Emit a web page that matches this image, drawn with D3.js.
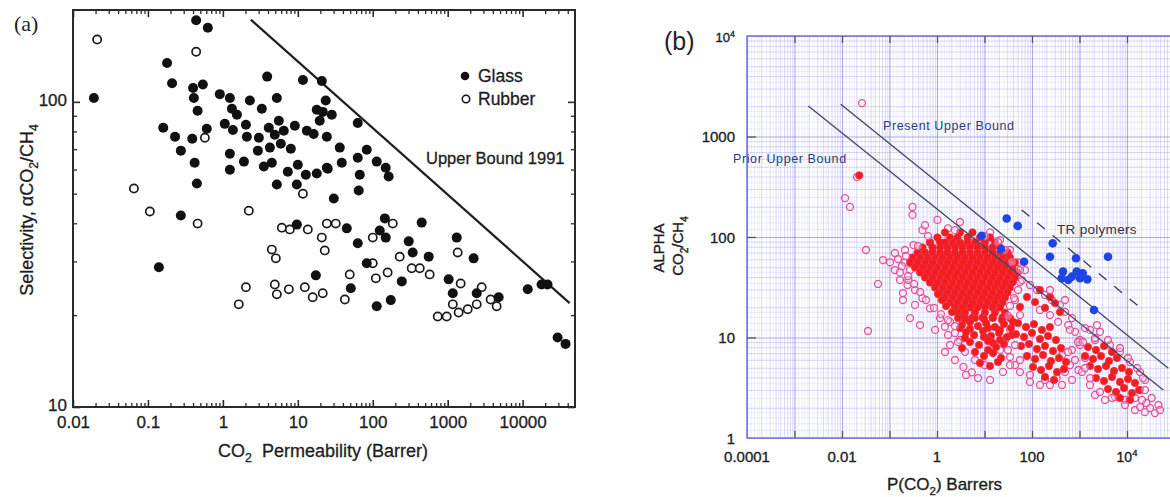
<!DOCTYPE html>
<html>
<head>
<meta charset="utf-8">
<title>CO2/CH4 upper bound plots</title>
<script src="https://cdn.jsdelivr.net/npm/d3@7/dist/d3.min.js"></script>
<style>
html,body{margin:0;padding:0;background:#fff;}
svg{display:block;}
text{white-space:pre;}
</style>
</head>
<body>
<svg id="fig" width="1170" height="497"></svg>
<script>
// ===================== Panel (a) data =====================
// [CO2 permeability (Barrer), CO2/CH4 selectivity]
const glassPoints = [
  [0.44,185],[0.63,175],[0.18,134],[0.21,115],[0.40,111],[0.54,114],[0.41,103],[0.019,103],
  [3.9,121],[11.7,118],[20.9,117],[0.91,106],[1.24,103],[2.29,101],[5.25,103],[23.6,101],
  [0.46,93.5],[1.32,94.9],[1.54,90.7],[3.31,94.9],[17.9,94.2],[21.5,92.7],[28.4,90.7],
  [0.16,82.2],[0.23,76.9],[0.39,75.7],[0.61,81.6],[1.06,84.7],[1.36,80.9],[2.03,84.1],[2.09,76.9],
  [3.02,76.3],[4.1,82.2],[5.58,86.7],[4.93,78],[6.5,80.4],[9.12,83.5],[13.2,80.4],[16.3,78.5],
  [19.6,86.7],[24.4,76.9],[63.1,85.3],
  [0.275,69.2],[0.42,63.2],[1.24,67.6],[1.91,63.7],[2.93,69.2],[4.24,70.8],[5.93,72.9],[8.07,70.2],
  [4.5,63.2],[3.52,61.4],[1.24,59.9],[7.36,59],[10,62.2],[12.8,57.7],[17.9,58.2],[24.4,60.8],
  [0.45,54],[5.25,53.6],
  [36.3,70.8],[83.2,69.7],[63.1,65.6],[113,63.7],[149,60.8],[163,56.9],[38.6,63.2],[25.1,60.4],
  [67.1,57.7],[65,51.2],[30.2,48.2],[9.7,53.6],
  [145,41.5],[124,37.9],[149,35.9],[45,38.5],[63.1,34.4],[450,40.2],[1320,35.9],[302,34.9],
  [341,32.1],[558,31.1],[2220,30.7],[83.2,29.6],[1030,26.2],[244,25.8],[50.9,24.5],[1170,23.6],
  [2440,23.6],[4790,22.9],[174,22.4],[113,21.4],[11700,24.3],[17900,25.2],[21500,25.2],
  [29300,16.9],[37400,16.1],
  [0.275,42.4],[0.14,28.7],[9.7,39.6],[17.4,27]
];
const rubberPoints = [
  [0.021,160],[0.44,146],[0.575,76.3],[0.065,52],[11.7,50],[0.106,43.7],[0.46,39.9],[2.22,44],
  [6.12,38.7],[7.82,38.2],[13.6,38.2],[24.4,39.9],[32.1,39.9],[20.9,35.9],[22.9,32.6],[100,35.9],
  [185,39.9],[4.5,32.8],[5.09,30.7],[2.03,24.7],[1.63,21.7],[4.93,25.2],[5.25,23.4],[7.59,24.3],
  [12.4,24.7],[15.8,22.9],[21.5,23.6],[42.4,22.5],[49.3,27.2],[110,26.4],[158,27.6],[100,29.6],
  [229,31.1],[331,28.5],[424,28.5],[575,27.2],[1360,32.1],[1490,25.4],[2840,24.7],[1170,21.7],
  [1400,20.4],[1850,20.9],[2440,21.7],[736,19.8],[970,19.8],[3740,22.5],[4500,21.4]
];
const upperBound1991 = [[2.36,186],[42400,21.9]];
const aXTicks = [0.01,0.1,1,10,100,1000,10000];
const aXTickLabels = ["0.01","0.1","1","10","100","1000","10000"];
const aYTicks = [10,100];
const aYTickLabels = ["10","100"];

// ===================== Panel (b) data =====================
// TR polymers [P(CO2), alpha]
const trPolymers = [
  [29.3,153],[50,129],[8.7,103],[273,86.5],[22.2,76],[67.9,56.8],[239,63.7],[844,61.4],[3980,63.7],
  [450,45.2],[686,40.3],[873,45.2],[1170,43.5],[1460,37.9],[581,37.3],[422,38.8],[1025,38.8],[2020,18.8]
];
// core of the literature cloud, filled symbols: rows of [alpha, [P(CO2) ...]]
const literatureCoreRows = [
  [111, [1.47, 3.05, 5.59]],
  [98.9, [1.02, 1.88, 2.70, 4.39, 8.04, 13.1]],
  [88.2, [0.71, 1.16, 1.47, 2.12, 3.05, 4.39, 6.31, 10.2, 16.6]],
  [78.7, [0.495, 0.804, 1.16, 1.66, 2.39, 3.44, 4.95, 7.12, 10.2, 14.7, 21.2]],
  [70.1, [0.388, 0.56, 0.804, 1.16, 1.66, 2.39, 3.44, 4.95, 7.12, 10.2, 14.7, 21.2, 30.5]],
  [62.5, [0.305, 0.44, 0.631, 0.91, 1.31, 1.88, 2.70, 3.88, 5.59, 8.04, 11.6, 16.6, 23.9, 34.4]],
  [55.7, [0.27, 0.388, 0.56, 0.804, 1.16, 1.66, 2.39, 3.44, 4.95, 7.12, 10.2, 14.7, 21.2, 30.5, 43.9]],
  [49.7, [0.344, 0.495, 0.71, 1.02, 1.47, 2.12, 3.05, 4.39, 6.31, 9.08, 13.1, 18.8, 27, 38.8]],
  [44.4, [0.44, 0.631, 0.91, 1.31, 1.88, 2.70, 3.88, 5.59, 8.04, 11.6, 16.6, 23.9, 34.4, 49.5]],
  [39.5, [0.56, 0.804, 1.16, 1.66, 2.39, 3.44, 4.95, 7.12, 10.2, 14.7, 21.2, 30.5, 43.9]],
  [35.3, [0.71, 1.02, 1.47, 2.12, 3.05, 4.39, 6.31, 9.08, 13.1, 18.8, 27, 38.8]],
  [31.4, [0.91, 1.31, 1.88, 2.70, 3.88, 5.59, 8.04, 11.6, 16.6, 23.9, 34.4]],
  [28.0, [1.16, 1.66, 2.39, 3.44, 4.95, 7.12, 10.2, 14.7, 21.2, 30.5]],
  [25.0, [1.47, 2.12, 3.05, 4.39, 6.31, 9.08, 13.1, 18.8, 27]],
  [22.3, [1.88, 2.70, 3.88, 5.59, 8.04, 11.6, 16.6, 23.9]],
  [19.9, [2.39, 3.44, 4.95, 7.12, 10.2, 14.7, 21.2]],
  [17.7, [2.70, 3.88, 6.31, 10.2, 16.6, 27]],
  [15.8, [3.44, 5.59, 9.08, 14.7, 23.9]]
];
// filled symbols outside the core [P(CO2), alpha]
const literatureFilled = [
  [0.0231,410],
  [1.27,23.6],[1.05,27.1],[1.55,20.6],[2.07,17.9],
  [2.77,15.6],[4.08,15.3],[6.31,15.6],[9.76,15.3],[15.1,15.6],[23.4,14.9],[34.4,15.6],
  [3.05,12.4],[4.95,12.2],[11.9,12.4],[21.2,11.9],[39.8,14.3],
  [3.88,9.89],[9.76,10.1],[15.1,8.81],[21.2,9.44],[37.9,10.6],[3.36,7.86],[11.9,7.51],
  [78.5,25.3],[239,25.3],[116,22.5],[305,22.0],[55.9,20.1],[188,19.7],[147,29.7],[388,17.9],
  [3.36,13.3],[4.95,14.3],[7.30,13.0],[10.8,13.9],[16.6,12.7],[25.7,13.6],[36.1,12.4],
  [4.08,11.3],[6.01,10.6],[9.30,11.6],[13.7,10.35],[20.2,11.1],[29.8,10.1],
  [4.95,9.02],[7.66,8.42],[11.9,9.23],[17.5,8.04],[25.7,8.61],
  [6.31,7.17],[9.76,6.54],[15.1,7.01],[22.3,6.25],[8.04,5.58],[13.1,5.20],[19.2,5.71],
  [50.7,13.9],[74.8,12.7],[110,13.6],[162,11.9],[239,12.7],
  [46,10.8],[67.9,10.1],[100,11.1],[147,9.66],[217,10.35],[320,9.44],
  [58.7,8.23],[86.5,8.61],[127,7.69],[188,8.23],[277,7.34],[408,7.86],
  [78.5,6.54],[116,6.11],[171,6.70],[251,5.84],[370,6.25],[520,5.71],
  [105,5.09],[155,4.75],[228,5.20],[336,4.54],[472,4.86],[188,4.05],[290,3.78],
  [1510,8.04],[2224,7.51],[3280,8.23],[4830,7.17],
  [1306,6.54],[1923,6.11],[2836,6.54],[4180,5.84],[6150,6.25],
  [1663,5.20],[2450,4.86],[3614,5.20],[5320,4.64],[7850,4.97],[11000,4.54],
  [2224,3.95],[3280,3.69],[4830,4.05],[7120,3.61],[10500,3.86],[14730,3.53],
  [3980,3.07],[5870,2.87],[8650,3.14],[12740,2.80],[17900,3.00],[7120,2.50],[11560,2.39]
];
// open symbols scattered around the cloud [P(CO2), alpha]
const literatureOpen = [
  [0.0264,2150],[0.0207,395],[0.0116,244],[0.0147,199],[0.032,74.2],[0.0573,34.1],[0.0352,11.6],
  [0.073,59],[0.151,60.4],[0.13,69.3],[0.27,46.9],
  [0.305,199],[0.305,166],[1.02,148],[3.05,141],[0.495,117],[0.71,88.2],[4.95,88.2],[9.08,83.2],
  [0.56,131],[1.7,122],[13.1,111],[21.2,93.3],
  [0.192,27.7],[0.192,23.6],[0.166,37.3],[0.239,33.3],[0.344,21.1],[0.27,15.6],[0.44,13.3],
  [0.13,46.9],[0.1026,56],[0.212,74.2],[0.32,83.2],
  [0.212,55.7],[0.166,44.4],[0.25,37.3],[0.344,29.7],[0.495,24.6],[0.71,19.5],[1.16,15.6],[1.88,14.3],
  [0.91,11.9],[1.47,12.8],[2.39,11.1],[1.88,8.42],[3.05,9.44],[3.88,7.2],[6.31,5.97],[10.2,5.32],
  [3.6,5.1],[5.4,4.5],
  [34.4,74.2],[51,56],[71.2,46.9],[55.9,35.7],[90.8,33.3],[128,29.7],[188,26.5],[262,23.6],[388,21.1],
  [495,18],[147,18.8],[239,16.7],[355,14.3],[580,13.3],[804,11.4],[1025,9.44],
  [43.9,23.6],[55.9,16.7],[34.4,11.9],[27,9.44],
  [21.2,7.51],[34.4,6.4],[43.9,5.32],[55.9,4.53],[90.8,4.24],[188,3.78],[239,3.37],[330,3.96],
  [495,4.53],[631,5.32],[430,6.7],[690,7.51],
  [1025,8.42],[1306,6.25],[950,4.75],[1663,3.37],[2120,2.68],[3440,2.39],[5590,2.56],[9080,2.39],
  [14730,2.5],[18800,3.0],[23900,3.78],[18800,4.53],[11560,5.7],[7120,7.2],[4390,8.42],[2120,9.44],
  [2700,11.4],[1663,11.9],
  [14730,1.9],[18800,2.03],[23900,1.81],[30500,1.99],[38800,1.77],[25500,2.23],[46000,2.13],
  [33000,2.5],[49500,1.9]
];
// open symbols on the rim of the filled mass, drawn above it [P(CO2), alpha]
const literatureOpenRim = [
  [0.647,102],[2.39,117],[10.2,102],[19.2,89.1],[0.398,81.3],[27,74.2],
  [0.222,64.7],[0.183,51.4],[0.245,40.9],[0.328,34.1],[0.44,28.4],[0.587,23.6],[0.865,19.7],
  [1.21,17.1],[1.71,14.9],
  [37.9,56.4],[55.9,46.9],[61.5,37.3],[50.7,29.7],[41.8,24.7],[34.4,20.6],[31.2,16.4],
  [2.39,13.0],[1.71,10.6],[2.77,9.02],[1.47,7.17],[2.39,5.97],[4.08,4.24],[7.30,3.95],[13.1,3.78],
  [24.5,4.54],[34.4,5.32],[31.2,7.51],
  [631,11.9],[929,9.02],[573,7.17],[804,5.97],[1130,4.54],[695,3.78],[428,3.37],[147,3.37],
  [90.8,3.61],[55.9,5.97],[43.9,8.42],
  [1186,9.02],[2120,9.89],[3980,9.44],[7120,7.86],[10500,6.25],[16250,4.97],[21700,3.95],
  [23900,3.0],[20700,2.39],[2700,2.87],[1663,3.95],[1306,4.97],[4830,2.5],[9080,2.13],
  [695,15.6],[1306,12.4],[2335,13.3],[239,29.7],[495,23.6]
];
const priorUpperBound = [[0.00195,2010],[58100,3.0]];
const presentUpperBound = [[0.0094,2090],[74100,4.94]];
const trUpperBound = [[60.7,186],[23900,18.1]];
const bXTicks = [1e-4,1e-2,1,100,1e4];
const bXTickLabels = ["0.0001","0.01","1","100","10^4"];
const bYTicks = [1,10,100,1000,1e4];
const bYTickLabels = ["1","10","100","1000","10^4"];

// ===================== helpers =====================
const FONT = "'Liberation Sans', Arial, Helvetica, sans-serif";
const svg = d3.select("#fig");

// text with optional sub/superscript parts: parts = ["txt", ["2","sub"], ...]
function richText(parent, x, y, parts, size, opts = {}) {
  const t = parent.append("text")
    .attr("x", x).attr("y", y)
    .attr("font-size", size)
    .attr("font-family", opts.family || FONT)
    .attr("fill", opts.fill || "#1e1e1e");
  if (opts.anchor) t.attr("text-anchor", opts.anchor);
  if (opts.transform) t.attr("transform", opts.transform);
  if (opts.stroke) t.attr("stroke", opts.stroke).attr("stroke-width", opts.strokeWidth || 0.3);
  if (opts.spacing) t.attr("letter-spacing", opts.spacing);
  let shift = 0;
  parts.forEach(p => {
    const [s, kind] = Array.isArray(p) ? p : [p, null];
    const target = kind === "sub" ? 0.3 * size : kind === "sup" ? -0.42 * size : 0;
    const ts = t.append("tspan").text(s).attr("dy", target - shift);
    if (kind) ts.attr("font-size", size * 0.68);
    shift = target;
  });
  return t;
}
function labelParts(s) {
  if (s.includes("^")) { const [b, e] = s.split("^"); return [b, [e, "sup"]]; }
  return [s];
}
function cleanAxis(sel, color, width) {
  sel.select(".domain").remove();
  sel.selectAll(".tick line").attr("stroke", color).attr("stroke-width", width);
}

// ===================== Panel (a) =====================
const A = {left: 73, right: 575, top: 10, bottom: 407};
const ax = d3.scaleLog().domain([0.01, 50000]).range([A.left, A.right]);
const ay = d3.scaleLog().domain([10, 200]).range([A.bottom, A.top]);
const ga = svg.append("g");

const aXMinor = [];
for (let e = -2; e <= 4; e++) for (let k = 2; k <= 9; k++) {
  const v = k * Math.pow(10, e);
  if (v < 50000) aXMinor.push(v);
}
const aYMinor = [20, 30, 40, 50, 60, 70, 80, 90];

// bottom axis (ticks point into the plot)
ga.append("g").attr("transform", `translate(0,${A.bottom})`)
  .call(d3.axisBottom(ax).tickValues(aXTicks).tickFormat((d, i) => aXTickLabels[i])
    .tickSize(-7).tickSizeOuter(0).tickPadding(9))
  .call(s => cleanAxis(s, "#2a2a2a", 1.6))
  .call(s => s.selectAll("text").attr("font-size", 17).attr("font-family", FONT)
    .attr("fill", "#1e1e1e").attr("stroke", "#1e1e1e").attr("stroke-width", 0.3));
ga.append("g").attr("transform", `translate(0,${A.bottom})`)
  .call(d3.axisBottom(ax).tickValues(aXMinor).tickFormat("").tickSize(-4).tickSizeOuter(0))
  .call(s => cleanAxis(s, "#2a2a2a", 1.3));
// top axis
ga.append("g").attr("transform", `translate(0,${A.top})`)
  .call(d3.axisTop(ax).tickValues(aXTicks).tickFormat("").tickSize(-7).tickSizeOuter(0))
  .call(s => cleanAxis(s, "#2a2a2a", 1.6));
ga.append("g").attr("transform", `translate(0,${A.top})`)
  .call(d3.axisTop(ax).tickValues(aXMinor).tickFormat("").tickSize(-4).tickSizeOuter(0))
  .call(s => cleanAxis(s, "#2a2a2a", 1.3));
// left axis
ga.append("g").attr("transform", `translate(${A.left},0)`)
  .call(d3.axisLeft(ay).tickValues(aYTicks).tickFormat((d, i) => aYTickLabels[i])
    .tickSize(-7).tickSizeOuter(0).tickPadding(6))
  .call(s => cleanAxis(s, "#2a2a2a", 1.6))
  .call(s => s.selectAll("text").attr("font-size", 17).attr("font-family", FONT).attr("dy", "0.22em")
    .attr("fill", "#1e1e1e").attr("stroke", "#1e1e1e").attr("stroke-width", 0.3));
ga.append("g").attr("transform", `translate(${A.left},0)`)
  .call(d3.axisLeft(ay).tickValues(aYMinor).tickFormat("").tickSize(-4).tickSizeOuter(0))
  .call(s => cleanAxis(s, "#2a2a2a", 1.3));
// right axis
ga.append("g").attr("transform", `translate(${A.right},0)`)
  .call(d3.axisRight(ay).tickValues(aYTicks).tickFormat("").tickSize(-7).tickSizeOuter(0))
  .call(s => cleanAxis(s, "#2a2a2a", 1.6));
ga.append("g").attr("transform", `translate(${A.right},0)`)
  .call(d3.axisRight(ay).tickValues(aYMinor).tickFormat("").tickSize(-4).tickSizeOuter(0))
  .call(s => cleanAxis(s, "#2a2a2a", 1.3));

// frame
ga.append("rect").attr("x", A.left).attr("y", A.top)
  .attr("width", A.right - A.left).attr("height", A.bottom - A.top)
  .attr("fill", "none").attr("stroke", "#2a2a2a").attr("stroke-width", 2);

// 1991 upper bound
ga.append("path").datum(upperBound1991)
  .attr("d", d3.line().x(d => ax(d[0])).y(d => ay(d[1])))
  .attr("stroke", "#1e1e1e").attr("stroke-width", 2.2).attr("fill", "none");

// data points
ga.append("g").selectAll("circle").data(rubberPoints).join("circle")
  .attr("cx", d => ax(d[0])).attr("cy", d => ay(d[1])).attr("r", 4.1)
  .attr("fill", "#fff").attr("stroke", "#1a1a1a").attr("stroke-width", 1.7);
ga.append("g").selectAll("circle").data(glassPoints).join("circle")
  .attr("cx", d => ax(d[0])).attr("cy", d => ay(d[1])).attr("r", 5)
  .attr("fill", "#111");

// legend
ga.append("circle").attr("cx", 465).attr("cy", 76).attr("r", 4.3).attr("fill", "#111");
ga.append("circle").attr("cx", 466).attr("cy", 99).attr("r", 3.7)
  .attr("fill", "#fff").attr("stroke", "#111").attr("stroke-width", 1.5);
richText(ga, 478, 82, ["Glass"], 17.5, {stroke: "#1e1e1e", strokeWidth: 0.3});
richText(ga, 478, 105, ["Rubber"], 17.5, {stroke: "#1e1e1e", strokeWidth: 0.3});
richText(ga, 426, 164, ["Upper Bound 1991"], 16.5, {stroke: "#1e1e1e", strokeWidth: 0.3});

// panel tag and axis titles
richText(ga, 14, 31, ["(a)"], 22, {family: "'Liberation Serif', 'Times New Roman', serif", fill: "#222"});
richText(ga, 323, 457, ["CO", ["2", "sub"], "  Permeability (Barrer)"], 18,
  {anchor: "middle", stroke: "#1e1e1e", strokeWidth: 0.3});
richText(ga, 33, 210, ["Selectivity, \u03b1CO", ["2", "sub"], "/CH", ["4", "sub"]], 18,
  {anchor: "middle", transform: "rotate(-90,33,210)", stroke: "#1e1e1e", strokeWidth: 0.3});

// ===================== Panel (b) =====================
const B = {left: 747, right: 1174.5, top: 36, bottom: 438};
const bx = d3.scaleLog().domain([1e-4, 1e5]).range([B.left, B.right]);
const by = d3.scaleLog().domain([1, 1e4]).range([B.bottom, B.top]);
const gb = svg.append("g");

// graph-paper grid
const subSteps = [1.2, 1.4, 1.6, 1.8, 2.5, 3.5, 4.5];
function gridValues(e0, e1) {
  const major = [], minor = [], sub = [];
  for (let e = e0; e <= e1; e++) {
    const base = Math.pow(10, e);
    major.push(base);
    if (e === e1) break;
    for (let k = 2; k <= 9; k++) minor.push(k * base);
    subSteps.forEach(k => sub.push(k * base));
  }
  return {major, minor, sub};
}
const gxv = gridValues(-4, 5), gyv = gridValues(0, 4);
const H = B.bottom - B.top, W = B.right - B.left;
const gridStyles = [
  ["sub", "#9a9af2", 0.22, 0.8],
  ["minor", "#8080ea", 0.34, 0.9],
  ["major", "#6a6ae2", 0.55, 1.2]
];
gridStyles.forEach(([key, col, op, w]) => {
  gb.append("g").attr("transform", `translate(0,${B.bottom})`)
    .call(d3.axisBottom(bx).tickValues(gxv[key]).tickFormat("").tickSize(-H).tickSizeOuter(0))
    .call(s => { cleanAxis(s, col, w); s.selectAll(".tick line").attr("stroke-opacity", op); });
  gb.append("g").attr("transform", `translate(${B.left},0)`)
    .call(d3.axisLeft(by).tickValues(gyv[key]).tickFormat("").tickSize(-W).tickSizeOuter(0))
    .call(s => { cleanAxis(s, col, w); s.selectAll(".tick line").attr("stroke-opacity", op); });
});

// frame (left, top, bottom)
gb.append("path")
  .attr("d", `M${B.right},${B.top}H${B.left}V${B.bottom}H${B.right}`)
  .attr("fill", "none").attr("stroke", "#7272dc").attr("stroke-width", 1.5);

// decade ticks
const bDecadesX = gxv.major.filter(v => v > 1e-4 && v < 1e5);
gb.append("g").attr("transform", `translate(0,${B.bottom})`)
  .call(d3.axisBottom(bx).tickValues(bDecadesX).tickFormat("").tickSize(-7).tickSizeOuter(0))
  .call(s => cleanAxis(s, "#555", 1.3));
gb.append("g").attr("transform", `translate(0,${B.top})`)
  .call(d3.axisTop(bx).tickValues(bDecadesX).tickFormat("").tickSize(-7).tickSizeOuter(0))
  .call(s => cleanAxis(s, "#555", 1.3));
gb.append("g").attr("transform", `translate(${B.left},0)`)
  .call(d3.axisLeft(by).tickValues(bYTicks.filter(v => v > 1 && v < 1e4)).tickFormat("").tickSize(-9).tickSizeOuter(0))
  .call(s => cleanAxis(s, "#555", 1.3));

// tick labels
bYTicks.forEach((v, i) => {
  const lab = bYTickLabels[i];
  const sup = lab.includes("^");
  richText(gb, 735, by(v) + (sup ? 6 : 5.5), labelParts(lab), sup ? 13 : 15,
    {anchor: "end", stroke: "#1e1e1e", strokeWidth: 0.35});
});
bXTicks.forEach((v, i) => {
  const lab = bXTickLabels[i];
  const sup = lab.includes("^");
  richText(gb, bx(v), 462, labelParts(lab), sup ? 14 : 15,
    {anchor: "middle", stroke: "#1e1e1e", strokeWidth: 0.35});
});

// literature cloud: open rings underneath, filled symbols, then rim rings on top
const literatureAllFilled = literatureCoreRows
  .flatMap(([alpha, ps]) => ps.map(p => [p, alpha]))
  .concat(literatureFilled);
function openRings(data) {
  gb.append("g").selectAll("circle").data(data).join("circle")
    .attr("cx", d => bx(d[0])).attr("cy", d => by(d[1])).attr("r", 3.5)
    .attr("fill", "rgba(255,225,238,0.35)").attr("stroke", "#e2529a").attr("stroke-width", 1.3);
}
openRings(literatureOpen);
gb.append("g").selectAll("circle").data(literatureAllFilled).join("circle")
  .attr("cx", d => bx(d[0])).attr("cy", d => by(d[1])).attr("r", 3.7)
  .attr("fill", "#f51c1c").attr("stroke", "#ee2c4c").attr("stroke-width", 0.7);
openRings(literatureOpenRim);

// upper bound lines
const bLine = d3.line().x(d => bx(d[0])).y(d => by(d[1]));
gb.append("path").datum(priorUpperBound).attr("d", bLine)
  .attr("fill", "none").attr("stroke", "#3c4868").attr("stroke-width", 1.3);
gb.append("path").datum(presentUpperBound).attr("d", bLine)
  .attr("fill", "none").attr("stroke", "#3c4868").attr("stroke-width", 1.3);
gb.append("path").datum(trUpperBound).attr("d", bLine)
  .attr("fill", "none").attr("stroke", "#333a55").attr("stroke-width", 1.3)
  .attr("stroke-dasharray", "10,10");

// TR polymers
gb.append("g").selectAll("circle").data(trPolymers).join("circle")
  .attr("cx", d => bx(d[0])).attr("cy", d => by(d[1])).attr("r", 4.3)
  .attr("fill", "#1d44e6");

// line labels
richText(gb, 733, 163, ["Prior Upper Bound"], 12.5, {fill: "#2a3d78", spacing: 0.6});
richText(gb, 883, 130, ["Present Upper Bound"], 12.5, {fill: "#2a3d78", spacing: 0.6});
richText(gb, 1057, 234, ["TR polymers"], 13.5, {fill: "#303040", spacing: 0.3});

// panel tag and axis titles
richText(gb, 664, 50, ["(b)"], 25, {fill: "#222"});
richText(gb, 887, 490, ["P(CO", ["2", "sub"], ") Barrers"], 17, {stroke: "#1e1e1e", strokeWidth: 0.35});
richText(gb, 664, 248, ["ALPHA"], 15, {anchor: "middle", transform: "rotate(-90,664,248)",
  stroke: "#1e1e1e", strokeWidth: 0.4});
richText(gb, 683, 246, ["CO", ["2", "sub"], "/CH", ["4", "sub"]], 15,
  {anchor: "middle", transform: "rotate(-90,683,246)", stroke: "#1e1e1e", strokeWidth: 0.4});
</script>
</body>
</html>
